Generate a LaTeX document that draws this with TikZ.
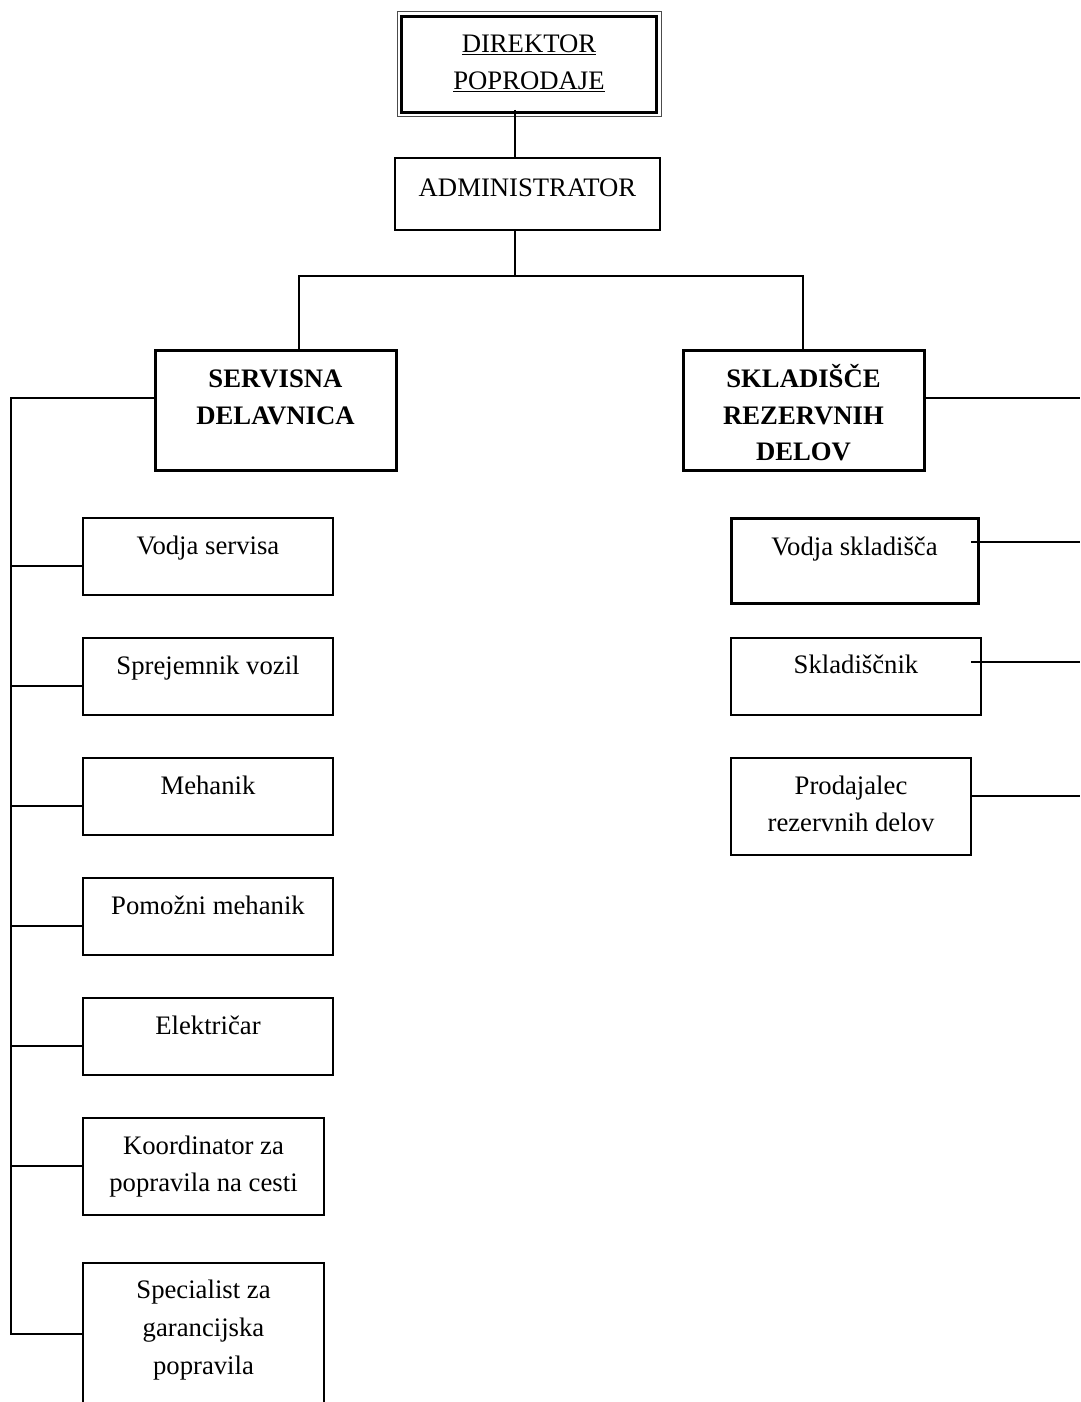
\documentclass[tikz,border=0pt]{standalone}
\usepackage{fontspec}
\setmainfont{Liberation Serif}
\usetikzlibrary{calc}
\begin{document}
\begin{tikzpicture}[x=1pt,y=-1pt,
  box/.style={draw, line width=1.5pt, inner sep=0pt, outer sep=0pt, anchor=north west},
  thickbox/.style={box, line width=3pt},
  lbl/.style={anchor=north, inner sep=0pt, outer sep=0pt, align=center,
    font=\fontsize{26.7}{37}\selectfont},
  link/.style={line width=1.5pt}]
\clip (0,0) rectangle (1080,1402);
\fill[white] (0,0) rectangle (1080,1402);

% --- top of the hierarchy ---
\node[box, draw=black!70, line width=1pt, minimum width=264, minimum height=105] (dir) at (397,12) {};
\draw[line width=3pt] ($(dir.north west)+(4.5,4.5)$) rectangle ($(dir.south east)+(-4.5,-4.5)$);
\node[lbl] (dirt) at ($(dir.north)+(0,15)$) {\strut\underline{DIREKTOR}\\\underline{POPRODAJE}};

\node[box, minimum width=265, minimum height=72] (adm) at (395,158) {};
\node[lbl] (admt) at ($(adm.north)+(0,13)$) {\strut ADMINISTRATOR};

% --- departments ---
\node[thickbox, minimum width=241, minimum height=120] (sd) at (155,350) {};
\node[lbl, font=\fontsize{26.7}{36.5}\selectfont\bfseries] (sdt) at ($(sd.north)+(0,12)$) {\strut SERVISNA\\DELAVNICA};

\node[thickbox, minimum width=241, minimum height=120] (sk) at (683,350) {};
\node[lbl, font=\fontsize{26.7}{36.5}\selectfont\bfseries] (skt) at ($(sk.north)+(0,12)$) {\strut SKLADIŠČE\\REZERVNIH\\DELOV};

% --- workshop staff ---
\node[box, minimum width=250, minimum height=77] (l1) at (83,518) {};
\node[lbl] (l1t) at ($(l1.north)+(0,11)$) {\strut Vodja servisa};
\node[box, minimum width=250, minimum height=77] (l2) at (83,638) {};
\node[lbl] (l2t) at ($(l2.north)+(0,11)$) {\strut Sprejemnik vozil};
\node[box, minimum width=250, minimum height=77] (l3) at (83,758) {};
\node[lbl] (l3t) at ($(l3.north)+(0,11)$) {\strut Mehanik};
\node[box, minimum width=250, minimum height=77] (l4) at (83,878) {};
\node[lbl] (l4t) at ($(l4.north)+(0,11)$) {\strut Pomožni mehanik};
\node[box, minimum width=250, minimum height=77] (l5) at (83,998) {};
\node[lbl] (l5t) at ($(l5.north)+(0,11)$) {\strut Električar};
\node[box, minimum width=241, minimum height=97] (l6) at (83,1118) {};
\node[lbl] (l6t) at ($(l6.north)+(0,11)$) {\strut Koordinator za\\popravila na cesti};
\node[box, minimum width=241, minimum height=200] (l7) at (83,1263) {};
\node[lbl, font=\fontsize{26.7}{38}\selectfont] (l7t) at ($(l7.north)+(0,9)$) {\strut Specialist za\\garancijska\\popravila};

% --- warehouse staff ---
\node[thickbox, minimum width=247, minimum height=85] (r1) at (731,518) {};
\node[lbl] (r1t) at ($(r1.north)+(0,12)$) {\strut Vodja skladišča};
\node[box, minimum width=250, minimum height=77] (r2) at (731,638) {};
\node[lbl] (r2t) at ($(r2.north)+(0,10)$) {\strut Skladiščnik};
\node[box, minimum width=240, minimum height=97] (r3) at (731,758) {};
\node[lbl] (r3t) at ($(r3.north)+(0,11)$) {\strut Prodajalec\\rezervnih delov};

% --- connectors ---
\coordinate (trunk) at (515,0);
\coordinate (busL) at (299,276);
\coordinate (busR) at (803,276);
\draw[link] ($(trunk |- dir.south)+(0,-7)$) -- (trunk |- adm.north);
\draw[link] (trunk |- adm.south) -- (trunk |- busL);
\draw[link] (busL |- sd.north) -- (busL) -- (busR) -- (busR |- sk.north);

\coordinate (spine) at (11,398);
\coordinate (b1) at (11,566);
\coordinate (b2) at (11,686);
\coordinate (b3) at (11,806);
\coordinate (b4) at (11,926);
\coordinate (b5) at (11,1046);
\coordinate (b6) at (11,1166);
\coordinate (b7) at (11,1334);
\draw[link] (spine -| sd.west) -- (spine) -- (b7) -- (b7 -| l7.west);
\foreach \b/\n in {b1/l1,b2/l2,b3/l3,b4/l4,b5/l5,b6/l6}
  \draw[link] (\b) -- (\b -| \n.west);

\coordinate (e0) at (1080,398);
\coordinate (e1) at (1080,542);
\coordinate (e2) at (1080,662);
\coordinate (e3) at (1080,796);
\draw[link] (e0 -| sk.east) -- (e0);
\draw[link] ($(e1 -| r1.east)+(-7,0)$) -- (e1);
\draw[link] ($(e2 -| r2.east)+(-10,0)$) -- (e2);
\draw[link] (e3 -| r3.east) -- (e3);
\end{tikzpicture}
\end{document}
